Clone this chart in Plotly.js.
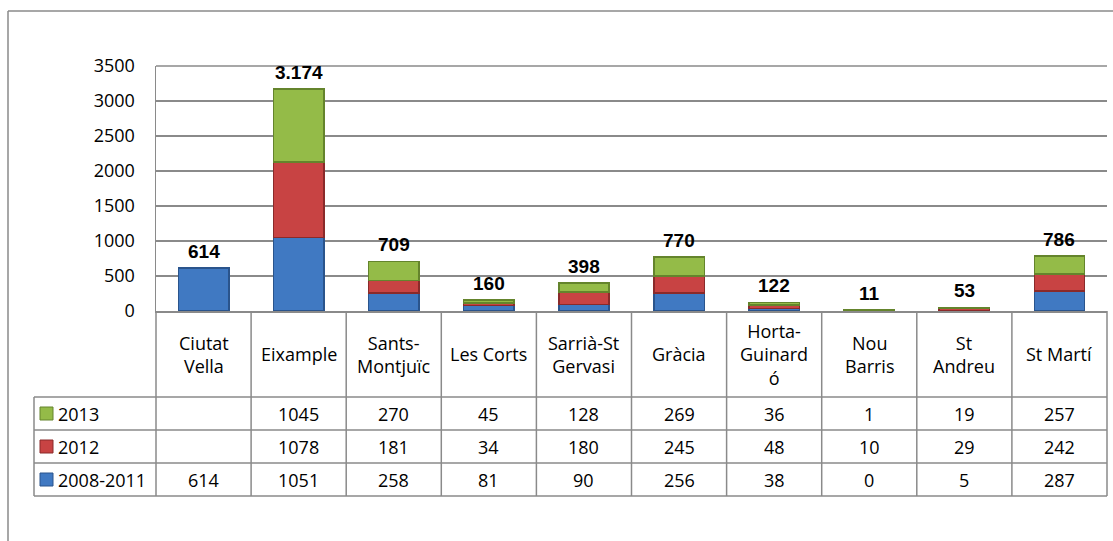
<!DOCTYPE html>
<html>
<head>
<meta charset="utf-8">
<script src="https://cdn.plot.ly/plotly-3.0.1.min.js"></script>
<style>
  html, body { margin: 0; padding: 0; background: #fff; }
  #chart { width: 1113px; height: 541px; }
</style>
</head>
<body>
<div id="chart"></div>
<script>
// districts of Barcelona and their data-table headers (wrapped like the original)
var districts = ['Ciutat Vella', 'Eixample', 'Sants-Montjuïc', 'Les Corts', 'Sarrià-St Gervasi',
                 'Gràcia', 'Horta-Guinardó', 'Nou Barris', 'St Andreu', 'St Martí'];
var districtLabels = ['Ciutat<br>Vella', 'Eixample', 'Sants-<br>Montjuïc', 'Les Corts', 'Sarrià-St<br>Gervasi',
                      'Gràcia', 'Horta-<br>Guinard<br>ó', 'Nou<br>Barris', 'St<br>Andreu', 'St Martí'];

var v2008_2011 = [614, 1051, 258, 81, 90, 256, 38, 0, 5, 287];
var v2012 = [null, 1078, 181, 34, 180, 245, 48, 10, 29, 242];
var v2013 = [null, 1045, 270, 45, 128, 269, 36, 1, 19, 257];

var yTicks = [0, 500, 1000, 1500, 2000, 2500, 3000, 3500];

// stacking order bottom -> top
var series = [
  { name: '2008-2011', values: v2008_2011, fill: '#4079c2', edge: '#2a548c' },
  { name: '2012', values: v2012, fill: '#c84343', edge: '#8a2a2a' },
  { name: '2013', values: v2013, fill: '#94bb48', edge: '#64842c' }
];

// pixel layout of the plot area and the data table under it
var plotL = 156, plotR = 1107, plotT = 66, plotB = 311;
var tableRows = [397, 430, 463, 496];   // horizontal rule positions
var legendLeft = 34;
var gridColor = '#8a8a8a';
var txtFont = { family: 'Open Sans, sans-serif', size: 18, color: '#000' };

function px(x) { return (x - plotL) / (plotR - plotL); }
function py(y) { return (plotB - y) / (plotB - plotT); }

function fmt(n) {
  return String(n).replace(/\B(?=(\d{3})+(?!\d))/g, '.');
}

var traces = series.map(function (s) {
  return {
    type: 'bar',
    name: s.name,
    x: districts,
    y: s.values,
    marker: { color: s.fill, line: { color: s.edge, width: 1.5 } },
    hoverinfo: 'x+y+name'
  };
});

var shapes = [];
var annotations = [];

function rule(x0, x1, y0, y1) {
  shapes.push({ type: 'line', xref: 'paper', yref: 'paper', x0: x0, x1: x1, y0: y0, y1: y1,
                line: { color: gridColor, width: 1.5 } });
}

// outer chart border (left and top only are visible)
rule(px(8), px(8), py(11), py(545));
rule(px(8), px(1115), py(11), py(11));

// table horizontal rules
tableRows.forEach(function (r) { rule(px(legendLeft), 1, py(r), py(r)); });
// table vertical rules at the category boundaries
var n = districts.length;
for (var i = 0; i <= n; i++) {
  rule(i / n, i / n, py(plotB), py(tableRows[3]));
}
rule(px(legendLeft), px(legendLeft), py(tableRows[0]), py(tableRows[3]));

// header row: district names
districts.forEach(function (d, i) {
  annotations.push({ xref: 'x', yref: 'paper', x: d, y: py((plotB + tableRows[0]) / 2),
                     text: districtLabels[i], showarrow: false, font: txtFont,
                     xanchor: 'center', yanchor: 'middle', align: 'center' });
});

// body rows: top row is the top of the stack
var tableOrder = series.slice().reverse();
tableOrder.forEach(function (s, r) {
  var cy = (tableRows[r] + tableRows[r + 1]) / 2;
  shapes.push({ type: 'rect', xref: 'paper', yref: 'paper',
                x0: px(40), x1: px(53), y0: py(cy + 6.5), y1: py(cy - 6.5),
                fillcolor: s.fill, line: { color: s.edge, width: 1 } });
  annotations.push({ xref: 'paper', yref: 'paper', x: px(56), y: py(cy), text: s.name,
                     showarrow: false, font: txtFont, xanchor: 'left', yanchor: 'middle' });
  s.values.forEach(function (v, i) {
    if (v === null) return;
    annotations.push({ xref: 'x', yref: 'paper', x: districts[i], y: py(cy), text: String(v),
                       showarrow: false, font: txtFont, xanchor: 'center', yanchor: 'middle' });
  });
});

// totals above each bar
districts.forEach(function (d, i) {
  var total = 0;
  series.forEach(function (s) { total += s.values[i] || 0; });
  annotations.push({ xref: 'x', yref: 'y', x: d, y: total, text: '<b>' + fmt(total) + '</b>',
                     showarrow: false, yanchor: 'bottom', yshift: 4,
                     font: { family: 'Liberation Sans, Arial, sans-serif', size: 19, color: '#000' } });
});

// top edge of the plot area
rule(0, 1, 1, 1);

var layout = {
  width: 1113,
  height: 541,
  margin: { l: plotL, r: 1113 - plotR, t: plotT, b: 541 - plotB, pad: 0 },
  paper_bgcolor: '#fff',
  plot_bgcolor: '#fff',
  barmode: 'stack',
  bargap: 0.47,
  showlegend: false,
  xaxis: {
    type: 'category',
    range: [-0.5, n - 0.5],
    showticklabels: false,
    showgrid: false,
    ticks: '',
    showline: true,
    linecolor: gridColor,
    linewidth: 1.5,
    fixedrange: true
  },
  yaxis: {
    range: [0, 3500],
    tickvals: yTicks,
    ticks: '',
    ticklabelstandoff: 16,
    tickfont: txtFont,
    showgrid: true,
    gridcolor: gridColor,
    gridwidth: 1.5,
    zeroline: false,
    showline: true,
    linecolor: gridColor,
    linewidth: 1.5,
    fixedrange: true
  },
  shapes: shapes,
  annotations: annotations
};

Plotly.newPlot('chart', traces, layout, { displayModeBar: false, staticPlot: true });
</script>
</body>
</html>
